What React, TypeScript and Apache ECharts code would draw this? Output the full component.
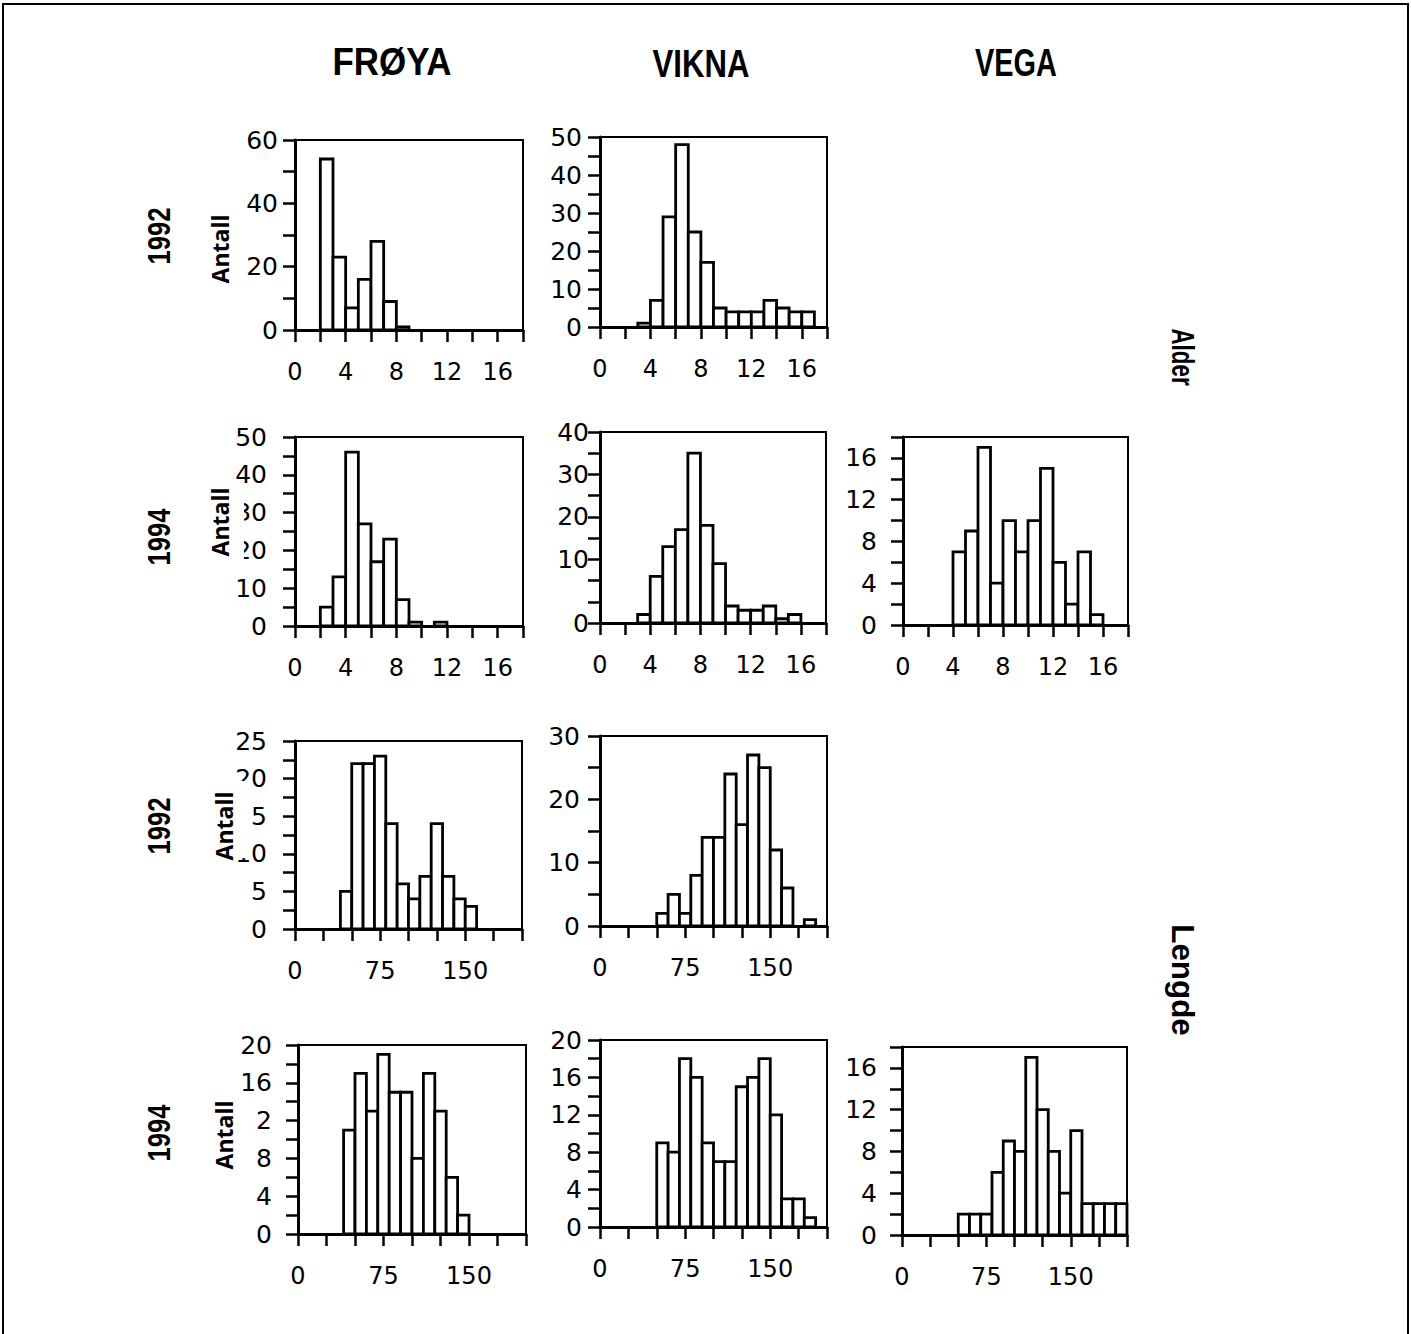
import React, { useEffect, useRef } from 'react';
import * as echarts from 'echarts';

// ---------- texts ----------
const columnTitles = ['FRØYA', 'VIKNA', 'VEGA'];
const rowYears = ['1992', '1994', '1992', '1994'];
const sideLabels = ['Alder', 'Lengde'];
const yAxisTitle = 'Antall';

// ---------- tick labels ----------
const ageTickLabels = [0, 4, 8, 12, 16];
const lengthTickLabels = [0, 75, 150];

// ---------- data: age (years), 1-year bins ----------
const froya92AgeStart = 2;
const froya92Age = [54, 23, 7, 16, 28, 9, 1];
const vikna92AgeStart = 3;
const vikna92Age = [1, 7, 29, 48, 25, 17, 5, 4, 4, 4, 7, 5, 4, 4];
const froya94AgeStart = 2;
const froya94Age = [5, 13, 46, 27, 17, 23, 7, 1, 0, 1];
const vikna94AgeStart = 3;
const vikna94Age = [2, 11, 18, 22, 40, 23, 14, 4, 3, 3, 4, 1, 2];
const vega94AgeStart = 4;
const vega94Age = [7, 9, 17, 4, 10, 7, 10, 15, 6, 2, 7, 1];

// ---------- data: length (mm), 10 mm bins ----------
const froya92LenStart = 40;
const froya92Len = [5, 22, 22, 23, 14, 6, 4, 7, 14, 7, 4, 3];
const vikna92LenStart = 50;
const vikna92Len = [2, 5, 2, 8, 14, 14, 24, 16, 27, 25, 12, 6, 0, 1];
const froya94LenStart = 40;
const froya94Len = [11, 17, 13, 19, 15, 15, 8, 17, 13, 6, 2];
const vikna94LenStart = 50;
const vikna94Len = [9, 8, 18, 16, 9, 7, 7, 15, 16, 18, 12, 3, 3, 1];
const vega94LenStart = 50;
const vega94Len = [2, 2, 2, 6, 9, 8, 17, 12, 8, 4, 10, 3, 3, 3, 3];

// y-axis labels of the Vikna 1994 age panel as printed (value -> text)
const vikna94AgeYLabels: [number, string][] = [[0, '0'], [15, '10'], [25, '20'], [35, '30'], [45, '40']];

type Panel = {
  values: number[];
  start: number;
  bin: number;
  kind: 'age' | 'len';
  yMax: number;
  yStep: number;
  yLabelStep: number;
  yLabelMap?: [number, string][];
  yLabelMargin: number;
  grid: { left: number; top: number; width: number; height: number };
};

const panels: Panel[] = [
  { values: froya92Age, start: froya92AgeStart, bin: 1, kind: 'age', yMax: 60, yStep: 10, yLabelStep: 20, yLabelMargin: 17, grid: { left: 295, top: 140, width: 228, height: 190 } },
  { values: vikna92Age, start: vikna92AgeStart, bin: 1, kind: 'age', yMax: 50, yStep: 5, yLabelStep: 10, yLabelMargin: 18, grid: { left: 600, top: 137, width: 227, height: 190 } },
  { values: froya94Age, start: froya94AgeStart, bin: 1, kind: 'age', yMax: 50, yStep: 5, yLabelStep: 10, yLabelMargin: 28, grid: { left: 295, top: 437, width: 228, height: 189 } },
  { values: vikna94Age, start: vikna94AgeStart, bin: 1, kind: 'age', yMax: 45, yStep: 5, yLabelStep: 10, yLabelMap: vikna94AgeYLabels, yLabelMargin: 11, grid: { left: 600, top: 432, width: 226, height: 191 } },
  { values: vega94Age, start: vega94AgeStart, bin: 1, kind: 'age', yMax: 18, yStep: 2, yLabelStep: 4, yLabelMargin: 26, grid: { left: 903, top: 437, width: 225, height: 188 } },
  { values: froya92Len, start: froya92LenStart, bin: 10, kind: 'len', yMax: 25, yStep: 2.5, yLabelStep: 5, yLabelMargin: 28, grid: { left: 295, top: 741, width: 227, height: 188 } },
  { values: vikna92Len, start: vikna92LenStart, bin: 10, kind: 'len', yMax: 30, yStep: 5, yLabelStep: 10, yLabelMargin: 20, grid: { left: 600, top: 736, width: 227, height: 190 } },
  { values: froya94Len, start: froya94LenStart, bin: 10, kind: 'len', yMax: 20, yStep: 2, yLabelStep: 4, yLabelMargin: 26, grid: { left: 298, top: 1045, width: 228, height: 189 } },
  { values: vikna94Len, start: vikna94LenStart, bin: 10, kind: 'len', yMax: 20, yStep: 2, yLabelStep: 4, yLabelMargin: 18, grid: { left: 600, top: 1040, width: 227, height: 187 } },
  { values: vega94Len, start: vega94LenStart, bin: 10, kind: 'len', yMax: 18, yStep: 2, yLabelStep: 4, yLabelMargin: 25, grid: { left: 902, top: 1047, width: 225, height: 188 } },
];

const FONT = '"DejaVu Sans", Verdana, sans-serif';
const BOLD_FONT = '"Liberation Sans", Arial, sans-serif';
const isMultiple = (v: number, s: number) => Math.abs(v / s - Math.round(v / s)) < 1e-6;

function buildOption() {
  const grids: any[] = [];
  const xAxes: any[] = [];
  const yAxes: any[] = [];
  const series: any[] = [];

  panels.forEach((p, i) => {
    grids.push({ ...p.grid, show: true, borderColor: '#000', borderWidth: 2, backgroundColor: 'transparent' });
    const labels = p.kind === 'age' ? ageTickLabels : lengthTickLabels;
    xAxes.push({
      type: 'value',
      gridIndex: i,
      min: 0,
      max: p.kind === 'age' ? 18 : 200,
      interval: p.kind === 'age' ? 2 : 25,
      axisLine: { show: true, onZero: false, lineStyle: { color: '#000', width: 3 } },
      axisTick: { show: true, inside: false, length: 12, lineStyle: { color: '#000', width: 2.5 } },
      axisLabel: {
        color: '#000',
        fontFamily: FONT,
        fontSize: 24,
        margin: 30,
        showMaxLabel: true,
        showMinLabel: true,
        formatter: (v: number) => (labels.indexOf(v) >= 0 ? String(v) : ''),
      },
      splitLine: { show: false },
    });
    yAxes.push({
      type: 'value',
      gridIndex: i,
      min: 0,
      max: p.yMax,
      interval: p.yStep,
      axisLine: { show: true, onZero: false, lineStyle: { color: '#000', width: 3 } },
      axisTick: { show: true, inside: false, length: 12, lineStyle: { color: '#000', width: 2.5 } },
      axisLabel: {
        color: '#000',
        fontFamily: FONT,
        fontSize: 25,
        margin: p.yLabelMargin,
        showMaxLabel: true,
        showMinLabel: true,
        formatter: (v: number) => {
          if (p.yLabelMap) {
            const m = p.yLabelMap.find((e) => Math.abs(e[0] - v) < 1e-6);
            return m ? m[1] : '';
          }
          return isMultiple(v, p.yLabelStep) ? String(v) : '';
        },
      },
      splitLine: { show: false },
    });
    const data = p.values
      .map((v, k) => [p.start + k * p.bin, p.start + (k + 1) * p.bin, v])
      .filter((d) => d[2] > 0);
    series.push({
      type: 'custom',
      xAxisIndex: i,
      yAxisIndex: i,
      encode: { x: [0, 1], y: 2 },
      data,
      renderItem: (_params: any, api: any) => {
        const x0 = api.value(0);
        const x1 = api.value(1);
        const v = api.value(2);
        const tl = api.coord([x0, v]);
        const br = api.coord([x1, 0]);
        return {
          type: 'rect',
          shape: { x: tl[0], y: tl[1], width: br[0] - tl[0], height: br[1] - tl[1] },
          style: { fill: '#fff', stroke: '#000', lineWidth: 2.8 },
        };
      },
    });
  });

  const graphics: any[] = [];
  // outer frame
  graphics.push({ type: 'rect', shape: { x: 3, y: 4, width: 1405, height: 1345 }, style: { fill: 'transparent', stroke: '#000', lineWidth: 2 }, z: 1 });

  // column titles
  const titlePos = [[392, 62], [701, 64], [1016, 62]];
  const titleScale = [0.92, 0.82, 0.76];
  columnTitles.forEach((t, i) => {
    graphics.push({
      type: 'text', x: titlePos[i][0], y: titlePos[i][1], scaleX: titleScale[i], z: 10,
      style: { text: t, fontFamily: BOLD_FONT, fontWeight: 'bold', fontSize: 38, fill: '#000', align: 'center', verticalAlign: 'middle' },
    });
  });

  // row years (rotated)
  const yearY = [236, 537, 826, 1133];
  rowYears.forEach((t, i) => {
    graphics.push({
      type: 'text', x: 159, y: yearY[i], rotation: Math.PI / 2, scaleX: 0.8, z: 10,
      style: { text: t, fontFamily: BOLD_FONT, fontWeight: 'bold', fontSize: 32, fill: '#000', align: 'center', verticalAlign: 'middle' },
    });
  });

  // side labels
  const sidePos = [[1183, 357], [1183, 980]];
  const sideScale = [0.7, 0.98];
  sideLabels.forEach((t, i) => {
    graphics.push({
      type: 'text', x: sidePos[i][0], y: sidePos[i][1], rotation: -Math.PI / 2, scaleX: sideScale[i], z: 10,
      style: { text: t, fontFamily: BOLD_FONT, fontWeight: 'bold', fontSize: 32, fill: '#000', align: 'center', verticalAlign: 'middle' },
    });
  });

  // "Antall" titles with their white boxes
  const antall = [
    { x: 220, y: 249, box: null },
    { x: 220, y: 522, box: [205, 490, 39, 70] },
    { x: 224, y: 826, box: [205, 781, 46, 77] },
    { x: 224, y: 1135, box: [205, 1097, 49, 75] },
  ];
  antall.forEach((a) => {
    if (a.box) {
      graphics.push({ type: 'rect', shape: { x: a.box[0], y: a.box[1], width: a.box[2], height: a.box[3] }, style: { fill: '#fff' }, z: 50 });
    }
    graphics.push({
      type: 'text', x: a.x, y: a.y, rotation: Math.PI / 2, z: 60,
      style: { text: yAxisTitle, fontFamily: '"Open Sans", sans-serif', fontWeight: 'bold', fontSize: 23, fill: '#000', align: 'center', verticalAlign: 'middle' },
    });
  });

  return {
    animation: false,
    backgroundColor: '#fff',
    grid: grids,
    xAxis: xAxes,
    yAxis: yAxes,
    series,
    graphic: graphics,
  };
}

export default function App() {
  const ref = useRef<HTMLDivElement>(null);
  useEffect(() => {
    document.body.style.margin = '0';
    const chart = echarts.init(ref.current!, null, { renderer: 'svg' });
    chart.setOption(buildOption() as any);
    return () => chart.dispose();
  }, []);
  return <div ref={ref} style={{ width: 1411, height: 1334 }} />;
}
